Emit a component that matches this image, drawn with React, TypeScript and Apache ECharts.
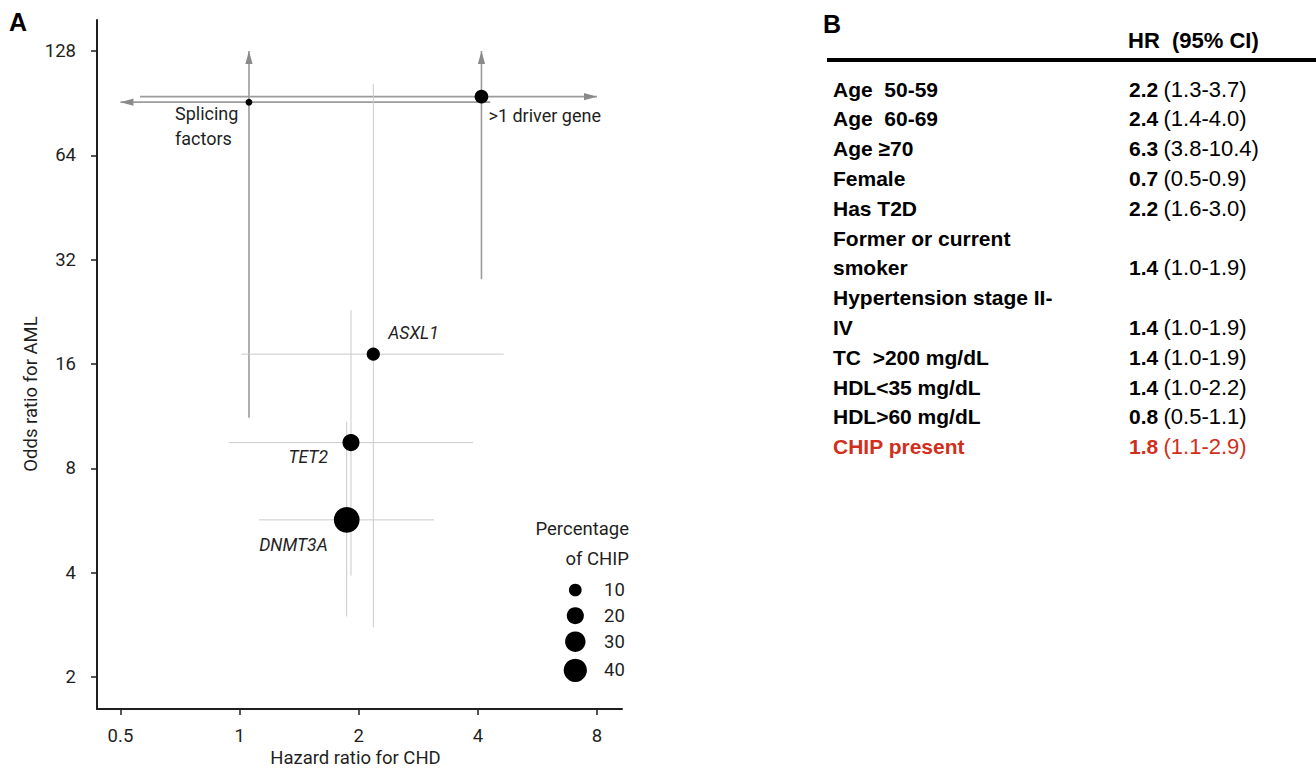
import React, { useEffect, useRef } from "react";
import * as echarts from "echarts";

// ---------- Panel A data ----------
const geneLabels = ["Splicing\nfactors", ">1 driver gene", "ASXL1", "TET2", "DNMT3A"];
const hazardRatio = [1.056, 4.085, 2.177, 1.912, 1.865];
const hrLower = [0.5, 0.56, 1.01, 0.94, 1.12];
const hrUpper = [4.3, 8, 4.65, 3.89, 3.1];
const oddsRatio = [91.1, 94.5, 17.08, 9.49, 5.68];
const orLower = [11.2, 28.1, 2.78, 3.92, 2.99];
const orUpper = [128, 128, 103, 22.9, 10.9];
const chipPercent = [2, 12, 11, 20, 50];
const hrLowerOpen = [true, false, false, false, false];
const hrUpperOpen = [false, true, false, false, false];
const orUpperOpen = [true, true, false, false, false];

const xTicks = [0.5, 1, 2, 4, 8];
const yTicks = [2, 4, 8, 16, 32, 64, 128];
const legendPercent = [10, 20, 30, 40];

// ---------- Panel B data ----------
const tableLabels = [
  "Age  50-59",
  "Age  60-69",
  "Age ≥70",
  "Female",
  "Has T2D",
  "Former or current",
  "smoker",
  "Hypertension stage II-",
  "IV",
  "TC  >200 mg/dL",
  "HDL<35 mg/dL",
  "HDL>60 mg/dL",
  "CHIP present",
];
const tableHR = ["2.2", "2.4", "6.3", "0.7", "2.2", "", "1.4", "", "1.4", "1.4", "1.4", "0.8", "1.8"];
const tableCI = [
  "(1.3-3.7)",
  "(1.4-4.0)",
  "(3.8-10.4)",
  "(0.5-0.9)",
  "(1.6-3.0)",
  "",
  "(1.0-1.9)",
  "",
  "(1.0-1.9)",
  "(1.0-1.9)",
  "(1.0-2.2)",
  "(0.5-1.1)",
  "(1.1-2.9)",
];
const highlightLabel = "CHIP present";

const NARROW = "Roboto, 'Liberation Sans', sans-serif";
const SANS = "'Liberation Sans', Arial, sans-serif";
const INK = "#1f1f1f";
const RED = "#d12f1c";
const W = 400;

const log2 = (v: number) => Math.log2(v);
const sizeOf = (p: number) => 2.1 + 3.35 * Math.sqrt(p);

// label placement (pixel offsets from marker centre)
const labelPlacement: Record<string, { align: string; offset: number[] }> = {
  "Splicing\nfactors": { align: "left", offset: [-74, 24] },
  ">1 driver gene": { align: "left", offset: [7, 19] },
  ASXL1: { align: "left", offset: [15, -21] },
  TET2: { align: "right", offset: [-23, 14] },
  DNMT3A: { align: "right", offset: [-19, 25] },
};

export default function App() {
  const ref = useRef<HTMLDivElement>(null);

  useEffect(() => {
    if (!ref.current) return;
    const chart = echarts.init(ref.current, undefined, { renderer: "svg" });

    const errData = geneLabels.map((_, i) => [
      log2(hazardRatio[i]),
      log2(oddsRatio[i]),
      log2(hrLower[i]),
      log2(hrUpper[i]),
      log2(orLower[i]),
      log2(orUpper[i]),
    ]);

    const pointData = geneLabels.map((name, i) => {
      const italic = i >= 2;
      const pl = labelPlacement[name];
      return {
        name,
        value: [log2(hazardRatio[i]), log2(oddsRatio[i]), chipPercent[i]],
        label: {
          show: true,
          formatter: name,
          position: "inside",
          align: pl.align,
          verticalAlign: "middle",
          offset: pl.offset,
          color: INK,
          fontFamily: NARROW,
          fontSize: italic ? 17.5 : 18,
          fontStyle: italic ? "italic" : "normal",
          fontWeight: W,
          lineHeight: 25,
        },
      };
    });

    const AH = 13; // arrow length
    const AW = 3.6; // arrow half width

    const renderErr = (params: any, api: any) => {
      const i = params.dataIndex;
      const x = api.value(0);
      const y = api.value(1);
      const pL = api.coord([api.value(2), y]);
      const pR = api.coord([api.value(3), y]);
      const pB = api.coord([x, api.value(4)]);
      const pT = api.coord([x, api.value(5)]);
      const open = hrLowerOpen[i] || hrUpperOpen[i] || orUpperOpen[i];
      const stroke = open ? "#9c9c9c" : "#cacaca";
      const lw = open ? 1.6 : 1;
      const arrowFill = "#8a8a8a";
      const children: any[] = [
        {
          type: "line",
          shape: { x1: pL[0], y1: pL[1], x2: pR[0], y2: pR[1] },
          style: { stroke, lineWidth: lw },
        },
        {
          type: "line",
          shape: { x1: pB[0], y1: pB[1], x2: pT[0], y2: pT[1] },
          style: { stroke, lineWidth: lw },
        },
      ];
      if (hrLowerOpen[i]) {
        children.push({
          type: "polygon",
          shape: { points: [[pL[0], pL[1]], [pL[0] + AH, pL[1] - AW], [pL[0] + AH, pL[1] + AW]] },
          style: { fill: arrowFill },
        });
      }
      if (hrUpperOpen[i]) {
        children.push({
          type: "polygon",
          shape: { points: [[pR[0], pR[1]], [pR[0] - AH, pR[1] - AW], [pR[0] - AH, pR[1] + AW]] },
          style: { fill: arrowFill },
        });
      }
      if (orUpperOpen[i]) {
        children.push({
          type: "polygon",
          shape: { points: [[pT[0], pT[1]], [pT[0] - AW, pT[1] + AH], [pT[0] + AW, pT[1] + AH]] },
          style: { fill: arrowFill },
        });
      }
      return { type: "group", children };
    };

    // Legend (size key)
    const legendY = [590, 615.7, 641.7, 670.3];
    const legendEls: any[] = [
      {
        type: "text",
        x: 629,
        y: 529,
        style: { text: "Percentage", fill: INK, fontFamily: NARROW, fontWeight: W, fontSize: 18.5, align: "right", verticalAlign: "middle" },
      },
      {
        type: "text",
        x: 629,
        y: 559,
        style: { text: "of CHIP", fill: INK, fontFamily: NARROW, fontWeight: W, fontSize: 18.5, align: "right", verticalAlign: "middle" },
      },
    ];
    legendPercent.forEach((p, k) => {
      legendEls.push({
        type: "circle",
        shape: { cx: 575.3, cy: legendY[k], r: sizeOf(p) / 2 },
        style: { fill: "#000" },
      });
      legendEls.push({
        type: "text",
        x: 604,
        y: legendY[k],
        style: { text: String(p), fill: INK, fontFamily: NARROW, fontWeight: W, fontSize: 18.5, align: "left", verticalAlign: "middle" },
      });
    });

    // Table (panel B)
    const tableEls: any[] = [];
    tableLabels.forEach((lab, i) => {
      const y = 89 + i * 29.8;
      const color = lab === highlightLabel ? RED : "#000";
      tableEls.push({
        type: "text",
        x: 833,
        y,
        style: {
          text: lab,
          fill: color,
          fontFamily: SANS,
          fontWeight: "bold",
          fontSize: 21,
          align: "left",
          verticalAlign: "middle",
        },
      });
      if (tableHR[i]) {
        tableEls.push({
          type: "text",
          x: 1129,
          y,
          style: {
            text: `{b|${tableHR[i]}} {n|${tableCI[i]}}`,
            fill: color,
            align: "left",
            verticalAlign: "middle",
            rich: {
              b: { fontFamily: SANS, fontWeight: "bold", fontSize: 21, fill: color },
              n: { fontFamily: SANS, fontWeight: "normal", fontSize: 22, fill: color, padding: [0, 0, 0, 2] },
            },
          },
        });
      }
    });

    const option: any = {
      animation: false,
      backgroundColor: "#fff",
      grid: { left: 97, right: 694, top: 20, bottom: 62, containLabel: false },
      xAxis: {
        type: "value",
        min: -1.197,
        max: 3.21,
        splitLine: { show: false },
        axisLine: { show: true, onZero: false, lineStyle: { color: INK, width: 2 } },
        axisTick: {
          show: true,
          length: 6,
          lineStyle: { color: INK, width: 1.5 },
          customValues: xTicks.map(log2),
        },
        axisLabel: {
          customValues: xTicks.map(log2),
          formatter: (v: number) => String(Math.round(Math.pow(2, v) * 100) / 100),
          color: INK,
          fontFamily: NARROW,
          fontWeight: W,
          fontSize: 18.5,
          margin: 17,
        },
      },
      yAxis: {
        type: "value",
        min: 0.693,
        max: 7.297,
        splitLine: { show: false },
        axisLine: { show: true, onZero: false, lineStyle: { color: INK, width: 2 } },
        axisTick: {
          show: true,
          length: 6,
          lineStyle: { color: INK, width: 1.5 },
          customValues: yTicks.map(log2),
        },
        axisLabel: {
          customValues: yTicks.map(log2),
          formatter: (v: number) => String(Math.round(Math.pow(2, v))),
          color: INK,
          fontFamily: NARROW,
          fontWeight: W,
          fontSize: 18.5,
          margin: 21,
        },
      },
      series: [
        {
          type: "custom",
          renderItem: renderErr,
          data: errData,
          encode: { x: 0, y: 1 },
          z: 1,
          silent: true,
        },
        {
          type: "scatter",
          data: pointData,
          symbol: "circle",
          symbolSize: (v: number[]) => sizeOf(v[2]),
          itemStyle: { color: "#000", opacity: 1 },
          z: 3,
        },
      ],
      graphic: [
        {
          type: "text",
          x: 9,
          y: 22,
          style: { text: "A", fill: "#000", fontFamily: SANS, fontWeight: "bold", fontSize: 25, align: "left", verticalAlign: "middle" },
        },
        {
          type: "text",
          x: 823,
          y: 24,
          style: { text: "B", fill: "#000", fontFamily: SANS, fontWeight: "bold", fontSize: 25, align: "left", verticalAlign: "middle" },
        },
        {
          type: "text",
          x: 355.5,
          y: 758,
          style: { text: "Hazard ratio for CHD", fill: INK, fontFamily: NARROW, fontWeight: W, fontSize: 18.5, align: "center", verticalAlign: "middle" },
        },
        {
          type: "text",
          x: 31,
          y: 394,
          rotation: Math.PI / 2,
          style: { text: "Odds ratio for AML", fill: INK, fontFamily: NARROW, fontWeight: W, fontSize: 18.5, align: "center", verticalAlign: "middle" },
        },
        {
          type: "text",
          x: 1128,
          y: 40,
          style: { text: "HR  (95% CI)", fill: "#000", fontFamily: SANS, fontWeight: "bold", fontSize: 22, align: "left", verticalAlign: "middle" },
        },
        {
          type: "rect",
          shape: { x: 827, y: 58, width: 489, height: 4 },
          style: { fill: "#000" },
        },
        ...legendEls,
        ...tableEls,
      ],
    };

    chart.setOption(option);
    return () => chart.dispose();
  }, []);

  return <div ref={ref} style={{ position: "absolute", left: 0, top: 0, width: 1316, height: 771 }} />;
}
